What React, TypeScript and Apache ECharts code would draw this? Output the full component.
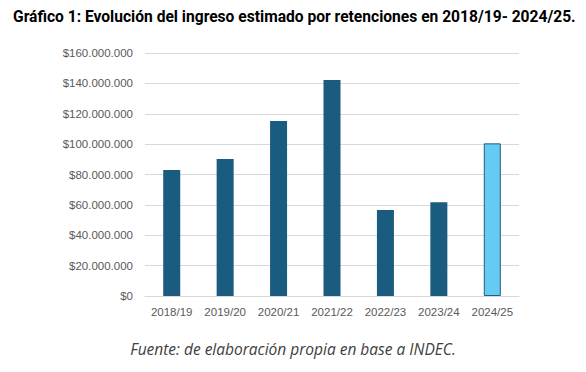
import React, { useEffect, useRef } from "react";
import * as echarts from "echarts";

const categories = ["2018/19", "2019/20", "2020/21", "2021/22", "2022/23", "2023/24", "2024/25"];
const values = [83000000, 90200000, 115200000, 142200000, 56600000, 61700000, 100500000];
const highlightIndex = 6;
const titleText = "Gráfico 1: Evolución del ingreso estimado por retenciones en 2018/19- 2024/25.";
const footerText = "Fuente: de elaboración propia en base a INDEC.";

function fmt(v: number): string {
  const s = Math.round(v).toString().replace(/\B(?=(\d{3})+(?!\d))/g, ".");
  return "$" + s;
}

export default function App() {
  const ref = useRef<HTMLDivElement>(null);
  useEffect(() => {
    if (!ref.current) return;
    const chart = echarts.init(ref.current, null, { renderer: "svg" });
    chart.setOption({
      animation: false,
      backgroundColor: "#ffffff",
      title: {
        text: titleText,
        left: 8,
        top: 4,
        textStyle: { fontFamily: "Roboto", fontWeight: "bold", fontSize: 15.6, color: "#000000" },
      },
      graphic: [
        {
          type: "text",
          left: "center",
          top: 341,
          style: {
            text: footerText,
            font: "italic 15.5px 'Open Sans'",
            fill: "#404040",
          },
        },
      ],
      grid: { left: 145, right: 67, top: 53, bottom: 76, containLabel: false },
      xAxis: {
        type: "category",
        data: categories,
        axisLine: { show: true, lineStyle: { color: "#d9d9d9", width: 1 } },
        axisTick: { show: false },
        axisLabel: { interval: 0, color: "#595959", fontSize: 11.5, fontFamily: "Liberation Sans", margin: 10 },
      },
      yAxis: {
        type: "value",
        min: 0,
        max: 160000000,
        interval: 20000000,
        axisLine: { show: false },
        axisTick: { show: false },
        splitLine: { lineStyle: { color: "#d9d9d9", width: 1 } },
        axisLabel: {
          color: "#595959",
          fontSize: 11.5,
          fontFamily: "Liberation Sans",
          margin: 12,
          formatter: (v: number) => fmt(v),
        },
      },
      series: [
        {
          type: "bar",
          barWidth: 17,
          data: values.map((v, i) =>
            i === highlightIndex
              ? { value: v, itemStyle: { color: "#65CBF2", borderColor: "#1f5f80", borderWidth: 1 } }
              : { value: v, itemStyle: { color: "#195C7F" } }
          ),
        },
      ],
    });
    return () => chart.dispose();
  }, []);
  return (
    <div
      ref={ref}
      style={{ position: "fixed", left: 0, top: 0, width: 586, height: 372, background: "#fff" }}
    />
  );
}
